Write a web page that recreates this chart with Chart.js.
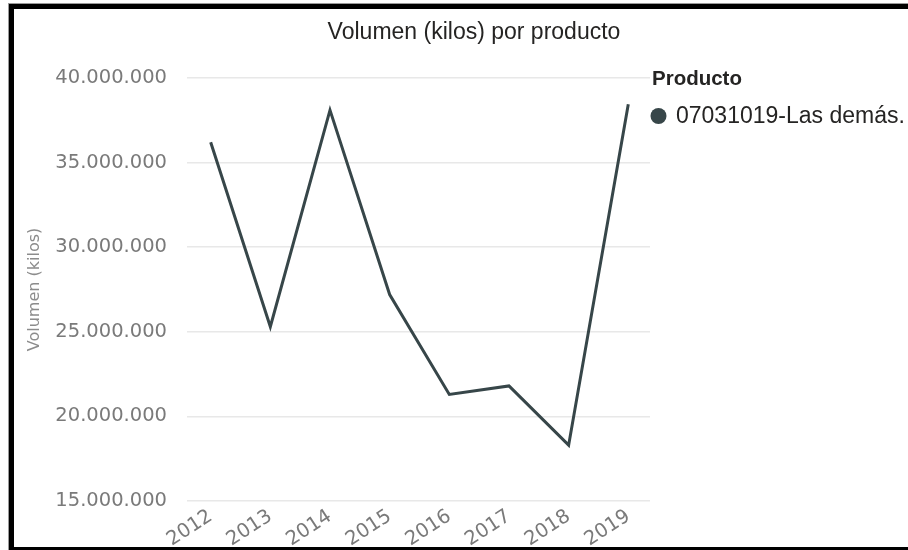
<!DOCTYPE html>
<html>
<head>
<meta charset="utf-8">
<script src="https://cdn.jsdelivr.net/npm/chart.js@4/dist/chart.umd.min.js"></script>
<style>
  html, body { margin: 0; padding: 0; background: #fff; overflow: hidden; width: 908px; height: 550px; }
  #frame {
    position: absolute; left: 9px; top: 4px;
    width: 1000px; height: 538px;
    border-top: 5px solid #000; border-left: 5px solid #000; border-bottom: 5px solid #000;
    box-shadow: 0 0 0 1px #9a9a9a;
  }
  #chart { position: absolute; left: 0; top: 0; }
</style>
</head>
<body>
<div id="frame"><canvas id="chart" width="894" height="538"></canvas></div>
<script>
// Yearly volume (kg) of product 07031019
const chartTitle = 'Volumen (kilos) por producto';
const legendTitle = 'Producto';
const seriesName = '07031019-Las demás.';
const years = [2012, 2013, 2014, 2015, 2016, 2017, 2018, 2019];
const volumes = [36200000, 25300000, 38100000, 27200000, 21300000, 21800000, 18300000, 38450000];
const yTicks = [15000000, 20000000, 25000000, 30000000, 35000000, 40000000];

const lineColor = '#374649';
const textDark = '#252423';

function formatThousands(v) {
  return String(Math.round(v)).replace(/\B(?=(\d{3})+(?!\d))/g, '.');
}

// Title above the plot and the legend block on its right
const headerAndLegend = {
  id: 'headerAndLegend',
  afterDraw(chart) {
    const { ctx, chartArea } = chart;
    ctx.save();
    ctx.fillStyle = textDark;
    ctx.textBaseline = 'alphabetic';
    ctx.textAlign = 'center';
    ctx.font = '23px "Liberation Sans"';
    ctx.fillText(chartTitle, chart.width / 2 + 13, 30);

    ctx.textAlign = 'left';
    ctx.font = 'bold 20.5px "Liberation Sans"';
    ctx.fillText(legendTitle, chartArea.right + 2, 76);

    const ds = chart.data.datasets[0];
    ctx.beginPath();
    ctx.arc(chartArea.right + 8.5, 107, 8, 0, Math.PI * 2);
    ctx.fillStyle = ds.borderColor;
    ctx.fill();
    ctx.fillStyle = textDark;
    ctx.font = '23px "Liberation Sans"';
    ctx.fillText(ds.label, chartArea.right + 26, 114);
    ctx.restore();
  }
};

new Chart(document.getElementById('chart'), {
  type: 'line',
  data: {
    datasets: [{
      label: seriesName,
      data: years.map((yr, i) => ({ x: yr, y: volumes[i] })),
      borderColor: lineColor,
      backgroundColor: lineColor,
      borderWidth: 3,
      pointRadius: 0,
      pointHoverRadius: 0,
      tension: 0,
      fill: false
    }]
  },
  options: {
    responsive: false,
    devicePixelRatio: 1,
    animation: false,
    layout: { padding: { top: 69, right: 258, bottom: 0, left: 0 } },
    plugins: {
      legend: { display: false },
      title: { display: false },
      tooltip: { enabled: false }
    },
    scales: {
      x: {
        type: 'linear',
        min: 2011.603,
        max: 2019.364,
        afterBuildTicks(scale) { scale.ticks = years.map(v => ({ value: v })); },
        afterFit(scale) { scale.height = 46; },
        grid: { display: false, drawTicks: false },
        border: { display: false },
        ticks: {
          autoSkip: false,
          minRotation: 33,
          maxRotation: 33,
          padding: 4,
          color: '#7a7a7a',
          font: { family: 'DejaVu Sans', size: 19.5 },
          callback: v => String(v)
        }
      },
      y: {
        min: 15000000,
        max: 40000000,
        afterBuildTicks(scale) { scale.ticks = yTicks.map(v => ({ value: v })); },
        afterFit(scale) { scale.width = 173; },
        grid: { color: '#e8e8e8', lineWidth: 1.5, drawTicks: false },
        border: { display: false },
        ticks: {
          padding: 20,
          color: '#7a7a7a',
          font: { family: 'DejaVu Sans', size: 19.5 },
          callback: v => formatThousands(v)
        },
        title: {
          display: true,
          text: 'Volumen (kilos)',
          color: '#8c8c8c',
          font: { family: 'DejaVu Sans', size: 16 },
          padding: { top: 11, bottom: 0 }
        }
      }
    }
  },
  plugins: [headerAndLegend]
});
</script>
</body>
</html>
